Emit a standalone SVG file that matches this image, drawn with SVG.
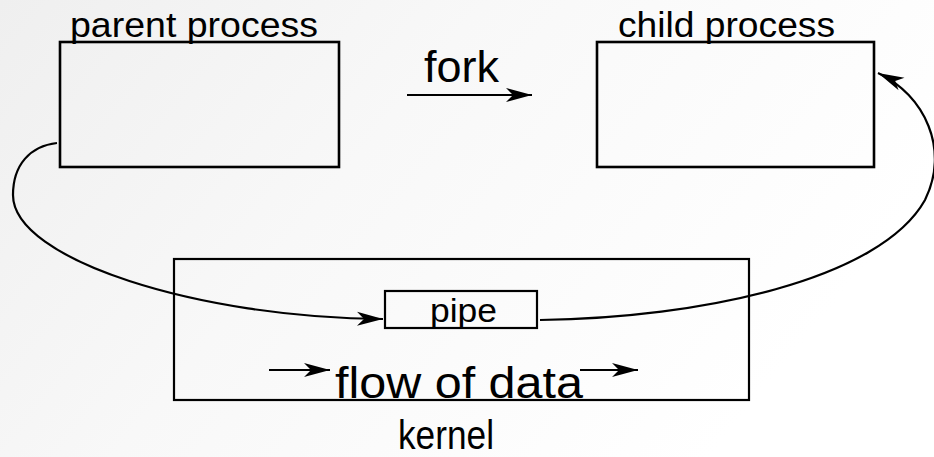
<svg xmlns="http://www.w3.org/2000/svg" width="934" height="457" viewBox="0 0 934 457">
  <defs>
    <linearGradient id="bg" x1="0" y1="0" x2="1" y2="0.4">
      <stop offset="0" stop-color="#efefef"/>
      <stop offset="0.45" stop-color="#f8f8f8"/>
      <stop offset="1" stop-color="#ffffff"/>
    </linearGradient>
    <marker id="arr" markerUnits="userSpaceOnUse" markerWidth="28" markerHeight="16" refX="26" refY="7" orient="auto" overflow="visible">
      <path d="M0,0 L26,7 L0,14 L7,7 Z" fill="#000"/>
    </marker>
  </defs>
  <style>
    .box { fill: none; stroke: #000; stroke-width: 2.6; }
    .thin { fill: none; stroke: #000; stroke-width: 2.2; }
    .conn { fill: none; stroke: #000; stroke-width: 2.2; marker-end: url(#arr); }
    text { font-family: "Liberation Sans", Arial, sans-serif; fill: #000; }
  </style>
  <rect x="0" y="0" width="934" height="457" fill="url(#bg)"/>

  <g id="parent">
    <rect class="box" x="60" y="42" width="279" height="125"/>
    <text x="70" y="37" font-size="35" textLength="248" lengthAdjust="spacingAndGlyphs">parent process</text>
  </g>

  <g id="child">
    <rect class="box" x="597" y="42" width="277" height="125"/>
    <text x="618" y="37" font-size="35" textLength="217" lengthAdjust="spacingAndGlyphs">child process</text>
  </g>

  <g id="fork">
    <text x="424" y="82" font-size="44" textLength="75" lengthAdjust="spacingAndGlyphs">fork</text>
  </g>

  <g id="kernel">
    <rect class="thin" x="174" y="259" width="575" height="141"/>
    <text x="335" y="398" font-size="45" textLength="248" lengthAdjust="spacingAndGlyphs">flow of data</text>
    <text x="398" y="449" font-size="41" textLength="96" lengthAdjust="spacingAndGlyphs">kernel</text>
  </g>

  <g id="pipe">
    <rect class="thin" x="385" y="291" width="152" height="37"/>
    <text x="430" y="322" font-size="33" textLength="67" lengthAdjust="spacingAndGlyphs">pipe</text>
  </g>

  <g id="connectors">
    <path class="conn" d="M407,95 L532,95"/>
    <path class="conn" d="M57,143 C30,146 13,165 13,195 C13,260 200,318 383,319"/>
    <path class="conn" d="M540,320 C700,318 880,280 925,200 C950,150 925,95 878,73"/>
    <path class="conn" d="M269,370 L330,370"/>
    <path class="conn" d="M580,370 L638,370"/>
  </g>
</svg>
